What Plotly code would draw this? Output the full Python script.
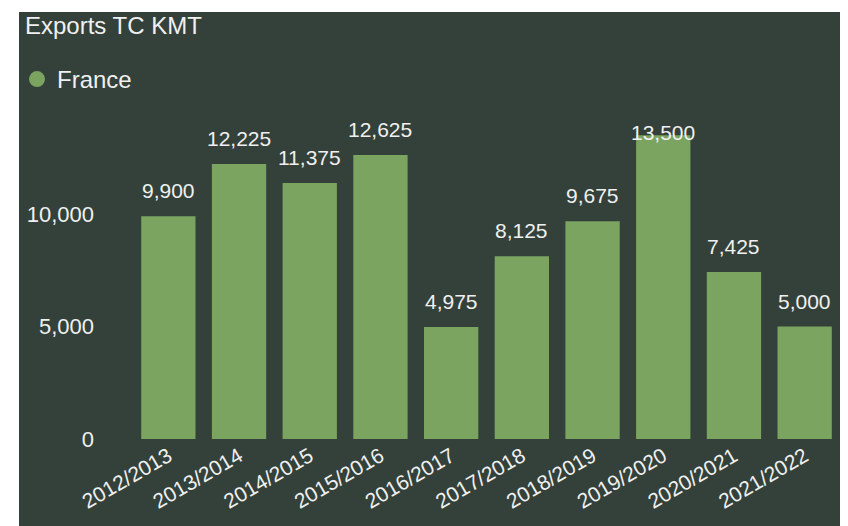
import plotly.graph_objects as go

categories = ["2012/2013", "2013/2014", "2014/2015", "2015/2016", "2016/2017",
              "2017/2018", "2018/2019", "2019/2020", "2020/2021", "2021/2022"]
france = [9900, 12225, 11375, 12625, 4975, 8125, 9675, 13500, 7425, 5000]
y_ticks = [0, 5000, 10000]

BG = "#33413a"
BAR = "#7aa460"
TXT = "#f0f0f0"
FONT = "Liberation Sans, Arial, sans-serif"

# page body has an 8px margin, so the figure is 8px smaller than the window
W, H = 840, 518
L, R, T, B = 125, 8, 116, 87
YMAX = 14000
pw, ph = W - L - R, H - T - B

fig = go.Figure()
fig.add_trace(go.Bar(x=categories, y=france, marker=dict(color=BAR, line=dict(width=0)),
                     showlegend=False, name="France"))
fig.add_trace(go.Scatter(x=[None], y=[None], mode="markers", name="France",
                         marker=dict(color=BAR, size=20, symbol="circle"), showlegend=True))

for c, v in zip(categories, france):
    if v > YMAX * 0.93:
        fig.add_annotation(x=c, y=YMAX, text=f"{v:,}", showarrow=False, yanchor="top",
                           yshift=5, font=dict(size=21, color=TXT, family=FONT))
    else:
        fig.add_annotation(x=c, y=v, text=f"{v:,}", showarrow=False, yanchor="bottom",
                           yshift=12, font=dict(size=21, color=TXT, family=FONT))

fig.add_shape(type="rect", xref="paper", yref="paper",
              x0=(11 - L) / pw, x1=(W - L) / pw,
              y0=(H - B - H) / ph, y1=(H - B - 4) / ph,
              fillcolor=BG, line=dict(width=0), layer="below")

fig.update_layout(
    width=W, height=H,
    margin=dict(l=L, r=R, t=T, b=B, pad=0, autoexpand=False),
    paper_bgcolor="white", plot_bgcolor="rgba(0,0,0,0)",
    bargap=0.232,
    font=dict(family=FONT, color=TXT, size=21),
    title=dict(text="Exports TC KMT", xref="container", yref="container",
               x=17 / W, xanchor="left", y=1 - 9 / H, yanchor="top",
               font=dict(size=24, color=TXT, family=FONT), pad=dict(t=0, l=0, b=0, r=0)),
    legend=dict(xref="container", yref="container", x=9 / W, xanchor="left",
                y=1 - 49 / H, yanchor="top", itemsizing="trace",
                bgcolor="rgba(0,0,0,0)", font=dict(size=24, color=TXT, family=FONT),
                itemwidth=30, tracegroupgap=0),
    xaxis=dict(showgrid=False, zeroline=False, showline=False, tickangle=-30,
               tickfont=dict(size=21, color=TXT, family=FONT), ticks=""),
    yaxis=dict(range=[0, YMAX], showgrid=False, zeroline=False, showline=False,
               tickvals=y_ticks, tickformat=",", ticks="", ticklabelstandoff=38,
               tickfont=dict(size=22, color=TXT, family=FONT)),
)

fig.write_html("out.html")
